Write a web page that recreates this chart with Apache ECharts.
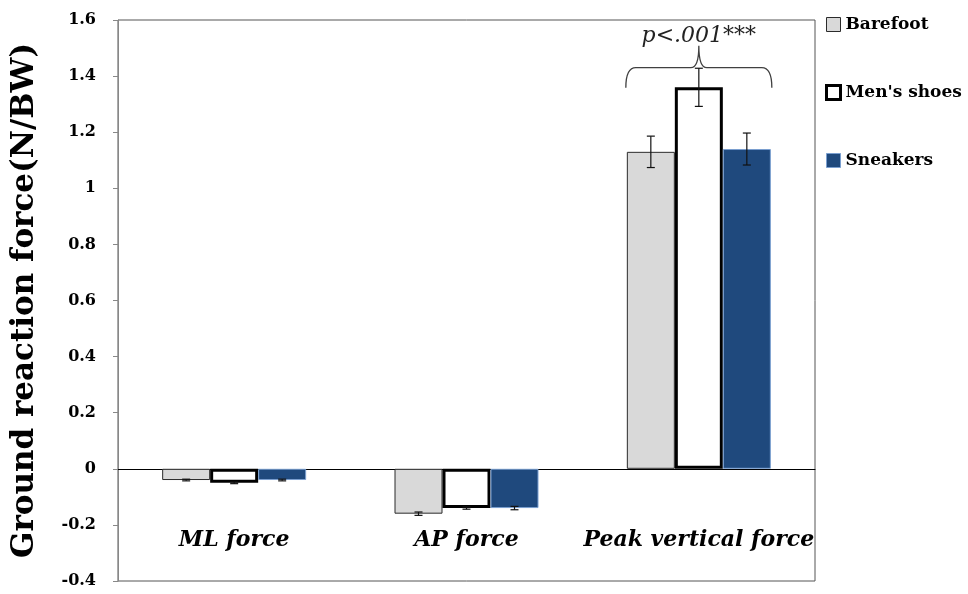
<!DOCTYPE html>
<html><head><meta charset="utf-8">
<script src="https://cdn.jsdelivr.net/npm/echarts@6/dist/echarts.min.js"></script>
<style>html,body{margin:0;padding:0;background:#fff}#c{width:968px;height:594px}</style>
</head><body><div id="c"></div>
<script>
const categories = ['ML force', 'AP force', 'Peak vertical force'];
const seriesNames = ['Barefoot', "Men's shoes", 'Sneakers'];
const barefoot = [-0.04, -0.16, 1.13];
const mensShoes = [-0.05, -0.14, 1.36];
const sneakers = [-0.04, -0.14, 1.14];
const barefootErr = [0.003, 0.006, 0.056];
const mensShoesErr = [0.003, 0.004, 0.068];
const sneakersErr = [0.003, 0.006, 0.057];
const yTicks = { min: -0.4, max: 1.6, interval: 0.2 };
const sigLabel = 'p<.001***';
const sigCategory = 2;
const sigLevel = 1.43;

const FONT = 'DejaVu Serif';
const BW = 48;
const chart = echarts.init(document.getElementById('c'));
const values = [barefoot, mensShoes, sneakers];
const errs = [barefootErr, mensShoesErr, sneakersErr];
const styles = [
  { color: '#d9d9d9', borderColor: '#2b2b2b', borderWidth: 1 },
  { color: '#ffffff', borderColor: '#000000', borderWidth: 3 },
  { color: '#1f497d', borderColor: '#7a9fd0', borderWidth: 1 }
];

const barSeries = seriesNames.map((n, i) => ({
  name: n, type: 'bar', data: values[i], barWidth: BW, barGap: '0%',
  itemStyle: styles[i], z: 2
}));

const errSeries = seriesNames.map((n, i) => ({
  name: n + ' err', type: 'custom', z: 5,
  data: values[i].map((v, k) => [k, v, errs[i][k]]),
  renderItem: function (params, api) {
    const x = api.value(0), v = api.value(1), e = api.value(2);
    const off = (i - 1) * BW;
    const hi = api.coord([x, v + e]);
    const lo = api.coord([x, v - e]);
    const cx = hi[0] + off;
    const w = 4;
    const st = { stroke: '#111', lineWidth: 1.2 };
    return { type: 'group', children: [
      { type: 'line', shape: { x1: cx, y1: hi[1], x2: cx, y2: lo[1] }, style: st },
      { type: 'line', shape: { x1: cx - w, y1: hi[1], x2: cx + w, y2: hi[1] }, style: st },
      { type: 'line', shape: { x1: cx - w, y1: lo[1], x2: cx + w, y2: lo[1] }, style: st }
    ]};
  }
}));

const bracketSeries = {
  type: 'custom', z: 6, silent: true,
  data: [[sigCategory, sigLevel]],
  renderItem: function (params, api) {
    const p = api.coord([api.value(0), api.value(1)]);
    const cx = p[0], y = p[1];
    const h = BW * 1.5 + 1;
    const d = `M${cx - h},${y + 20} Q${cx - h},${y} ${cx - h + 10},${y} L${cx - 8},${y} Q${cx},${y} ${cx},${y - 22} Q${cx},${y} ${cx + 8},${y} L${cx + h - 10},${y} Q${cx + h},${y} ${cx + h},${y + 20}`;
    return { type: 'group', children: [
      { type: 'path', shape: { pathData: d }, style: { fill: 'none', stroke: '#404040', lineWidth: 1.3 } },
      { type: 'text', x: cx, y: y - 31, style: { text: sigLabel, font: 'italic 22px "' + FONT + '"', fill: '#222', align: 'center', verticalAlign: 'middle' } }
    ]};
  }
};

chart.setOption({
  animation: false,
  grid: { left: 118, right: 153, top: 20, bottom: 13, show: true, borderColor: '#555', borderWidth: 1, containLabel: false, outerBoundsMode: 'none' },
  legend: {
    data: seriesNames.map((n, i) => ({ name: n, itemStyle: { borderWidth: i === 1 ? 3 : 1 } })),
    orient: 'vertical', left: 820, top: 11, itemGap: 51,
    itemWidth: 14, itemHeight: 14, icon: 'rect',
    textStyle: { fontFamily: FONT, fontWeight: 'bold', fontSize: 17, color: '#000' }
  },
  xAxis: {
    type: 'category', data: categories,
    axisLine: { onZero: true, lineStyle: { color: '#000', width: 1 } },
    axisTick: { show: false },
    axisLabel: { interval: 0, hideOverlap: false, margin: -52, fontFamily: FONT, fontStyle: 'italic', fontWeight: 'bold', fontSize: 22, color: '#000' }
  },
  yAxis: {
    type: 'value', min: yTicks.min, max: yTicks.max, interval: yTicks.interval,
    name: 'Ground reaction force(N/BW)', nameLocation: 'middle', nameGap: 78,
    nameTextStyle: { fontFamily: FONT, fontWeight: 'bold', fontSize: 31, color: '#000' },
    splitLine: { show: false },
    axisLine: { show: true, lineStyle: { color: '#888' } },
    axisTick: { show: true, length: 5, lineStyle: { color: '#888' } },
    axisLabel: { fontFamily: FONT, fontWeight: 'bold', fontSize: 16, color: '#000', margin: 22 }
  },
  series: [...barSeries, ...errSeries, bracketSeries]
});
</script></body></html>
